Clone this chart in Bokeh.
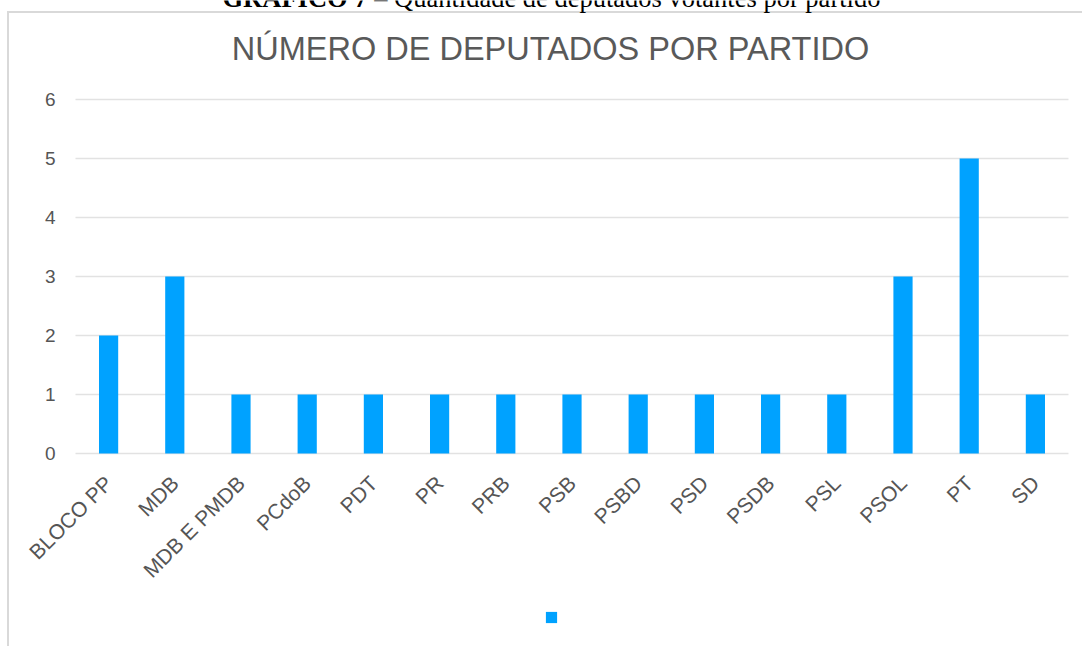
from math import pi
from bokeh.plotting import figure
from bokeh.models import (Range1d, FixedTicker, Legend, LegendItem,
                          ColumnDataSource, Label)
from bokeh.embed import file_html
from bokeh.resources import INLINE

# ---- data ----
partidos = ["BLOCO PP", "MDB", "MDB E PMDB", "PCdoB", "PDT", "PR", "PRB", "PSB",
            "PSBD", "PSD", "PSDB", "PSL", "PSOL", "PT", "SD"]
deputados = [2, 3, 1, 1, 1, 1, 1, 1, 1, 1, 1, 1, 3, 5, 1]
y_ticks = [0, 1, 2, 3, 4, 5, 6]

titulo = "NÚMERO DE DEPUTADOS POR PARTIDO"
legenda_bold = "GRÁFICO 7"
legenda_resto = "– Quantidade de deputados votantes por partido"

BAR = "#00A2FF"
GREY = "#555555"
GRID = "#e2e2e2"
BOX = "#d9d9d9"

# category slots 1..N on a numeric axis, labelled with the party names
slots = list(range(1, len(partidos) + 1))
source = ColumnDataSource(dict(x=slots, y=deputados, nome=partidos))

# light frame around the chart (drawn behind the transparent canvas)
box_css = {
    "background-image": f"linear-gradient({BOX}, {BOX}), linear-gradient({BOX}, {BOX})",
    "background-repeat": "no-repeat",
    "background-position": "7px 11px, 7px 11px",
    "background-size": "100% 2px, 2px 100%",
}

p = figure(x_range=Range1d(-0.6329, 15.7115), y_range=Range1d(-3.27, 7.677),
           width=1082, height=646,
           min_border_left=0, min_border_right=0,
           min_border_top=0, min_border_bottom=0,
           output_backend="svg", toolbar_location=None,
           styles=box_css)

p.outline_line_color = None
p.background_fill_color = None
p.border_fill_color = None
p.grid.visible = False

# horizontal grid lines across the category area
p.segment(x0=slots[0] - 0.5, x1=slots[-1] + 0.5, y0=y_ticks, y1=y_ticks,
          line_color=GRID, line_width=1.5)

r = p.vbar(x="x", top="y", bottom=0, width=0.29, source=source,
           fill_color=BAR, line_color=None)

p.yaxis.fixed_location = slots[0] - 0.5
p.yaxis.ticker = FixedTicker(ticks=y_ticks)
p.yaxis.axis_line_color = None
p.yaxis.major_tick_line_color = None
p.yaxis.minor_tick_line_color = None
p.yaxis.major_tick_in = 0
p.yaxis.major_tick_out = 0
p.yaxis.major_label_standoff = 20
p.yaxis.major_label_text_font = "Liberation Sans"
p.yaxis.major_label_text_font_size = "19px"
p.yaxis.major_label_text_color = GREY

p.xaxis.fixed_location = 0
p.xaxis.ticker = FixedTicker(ticks=slots)
p.xaxis.major_label_overrides = {s: n for s, n in zip(slots, partidos)}
p.xaxis.axis_line_color = None
p.xaxis.major_tick_line_color = None
p.xaxis.minor_tick_line_color = None
p.xaxis.major_tick_in = 0
p.xaxis.major_tick_out = 0
p.xaxis.major_label_orientation = pi / 4
p.xaxis.major_label_standoff = 26
p.xaxis.major_label_text_font = "Liberation Sans"
p.xaxis.major_label_text_font_size = "21px"
p.xaxis.major_label_text_color = GREY

# chart title
p.add_layout(Label(x=7.675, y=6.855, text=titulo, text_align="center",
                   text_baseline="alphabetic", text_font="Liberation Sans",
                   text_font_size="32.5px", text_color="#595959"))

# document caption, cut by the top of the page
p.add_layout(Label(x=4.911, y=7.727, text=legenda_bold, text_align="right",
                   text_baseline="alphabetic", text_font="Liberation Serif",
                   text_font_size="26.5px", text_font_style="bold",
                   text_color="black"))
p.add_layout(Label(x=5.011, y=7.727, text=legenda_resto, text_align="left",
                   text_baseline="alphabetic", text_font="Liberation Serif",
                   text_font_size="26.5px", text_color="black"))

legend = Legend(items=[LegendItem(label=" ", renderers=[r])],
                location=(544, 22), glyph_width=14, glyph_height=14,
                label_width=0, label_standoff=0, label_height=0,
                label_text_font_size="1px", padding=0, spacing=0, margin=0,
                border_line_color=None, background_fill_alpha=0)
p.add_layout(legend, "center")

open("out.html", "w").write(file_html(p, INLINE))
